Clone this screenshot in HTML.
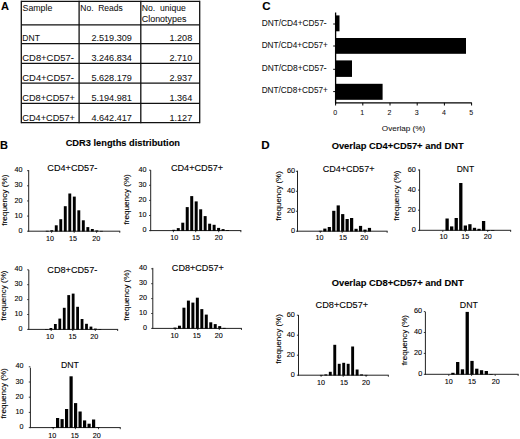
<!DOCTYPE html>
<html><head><meta charset="utf-8"><title>Figure</title>
<style>
html,body{margin:0;padding:0;background:#fff;}
body{width:520px;height:439px;overflow:hidden;}
svg{display:block;}
text{font-family:"Liberation Sans",sans-serif;fill:#000;stroke:#000;stroke-width:0.1px;}
text[font-weight=bold]{stroke-width:0.1px;}
text.lt{stroke-width:0.06px;fill:#111;stroke:#111;}
text.tk{stroke-width:0.1px;fill:#000;stroke:#000;}
</style></head>
<body>
<svg width="520" height="439" viewBox="0 0 520 439">
<rect width="520" height="439" fill="#fff"/>
<text x="1" y="9.8" font-size="11" font-weight="bold" text-anchor="start">A</text>
<line x1="21.3" y1="0.65" x2="21.3" y2="123.35" stroke="#111" stroke-width="1.3"/>
<line x1="79.1" y1="0.65" x2="79.1" y2="123.35" stroke="#111" stroke-width="1.3"/>
<line x1="140.8" y1="0.65" x2="140.8" y2="123.35" stroke="#111" stroke-width="1.3"/>
<line x1="199.7" y1="0.65" x2="199.7" y2="123.35" stroke="#111" stroke-width="1.3"/>
<line x1="21.3" y1="1.3" x2="199.7" y2="1.3" stroke="#111" stroke-width="1.3"/>
<line x1="21.3" y1="24.9" x2="199.7" y2="24.9" stroke="#111" stroke-width="1.3"/>
<line x1="21.3" y1="43.7" x2="199.7" y2="43.7" stroke="#111" stroke-width="1.3"/>
<line x1="21.3" y1="63.4" x2="199.7" y2="63.4" stroke="#111" stroke-width="1.3"/>
<line x1="21.3" y1="83.2" x2="199.7" y2="83.2" stroke="#111" stroke-width="1.3"/>
<line x1="21.3" y1="103.3" x2="199.7" y2="103.3" stroke="#111" stroke-width="1.3"/>
<line x1="21.3" y1="122.7" x2="199.7" y2="122.7" stroke="#111" stroke-width="1.3"/>
<text class="lt" x="22.52" y="11.1" font-size="9.6" text-anchor="start" textLength="29.86" lengthAdjust="spacingAndGlyphs">Sample</text>
<text class="lt" x="80.32" y="11.1" font-size="9.6" text-anchor="start" textLength="42.46" lengthAdjust="spacingAndGlyphs">No.&#160; Reads</text>
<text class="lt" x="141.72" y="11.1" font-size="9.6" text-anchor="start" textLength="44.16" lengthAdjust="spacingAndGlyphs">No.&#160; unique</text>
<text class="lt" x="141.72" y="21.9" font-size="9.6" text-anchor="start" textLength="44.76" lengthAdjust="spacingAndGlyphs">Clonotypes</text>
<text class="lt" x="22.32" y="41.3" font-size="9.6" text-anchor="start" textLength="17.56" lengthAdjust="spacingAndGlyphs">DNT</text>
<text class="lt" x="131.9" y="41.3" font-size="9.6" text-anchor="end" textLength="40.48" lengthAdjust="spacingAndGlyphs">2.519.309</text>
<text class="lt" x="192.2" y="41.3" font-size="9.6" text-anchor="end" textLength="22.77" lengthAdjust="spacingAndGlyphs">1.208</text>
<text class="lt" x="22.32" y="60.7" font-size="9.6" text-anchor="start" textLength="51.46" lengthAdjust="spacingAndGlyphs">CD8+CD57-</text>
<text class="lt" x="131.9" y="60.7" font-size="9.6" text-anchor="end" textLength="40.48" lengthAdjust="spacingAndGlyphs">3.246.834</text>
<text class="lt" x="192.2" y="60.7" font-size="9.6" text-anchor="end" textLength="22.77" lengthAdjust="spacingAndGlyphs">2.710</text>
<text class="lt" x="22.32" y="80.9" font-size="9.6" text-anchor="start" textLength="51.46" lengthAdjust="spacingAndGlyphs">CD4+CD57-</text>
<text class="lt" x="131.9" y="80.9" font-size="9.6" text-anchor="end" textLength="40.48" lengthAdjust="spacingAndGlyphs">5.628.179</text>
<text class="lt" x="192.2" y="80.9" font-size="9.6" text-anchor="end" textLength="22.77" lengthAdjust="spacingAndGlyphs">2.937</text>
<text class="lt" x="22.32" y="100.5" font-size="9.6" text-anchor="start" textLength="52.66" lengthAdjust="spacingAndGlyphs">CD8+CD57+</text>
<text class="lt" x="131.9" y="100.5" font-size="9.6" text-anchor="end" textLength="40.48" lengthAdjust="spacingAndGlyphs">5.194.981</text>
<text class="lt" x="192.2" y="100.5" font-size="9.6" text-anchor="end" textLength="22.77" lengthAdjust="spacingAndGlyphs">1.364</text>
<text class="lt" x="22.32" y="120.6" font-size="9.6" text-anchor="start" textLength="52.66" lengthAdjust="spacingAndGlyphs">CD4+CD57+</text>
<text class="lt" x="131.9" y="120.6" font-size="9.6" text-anchor="end" textLength="40.48" lengthAdjust="spacingAndGlyphs">4.642.417</text>
<text class="lt" x="192.2" y="120.6" font-size="9.6" text-anchor="end" textLength="22.77" lengthAdjust="spacingAndGlyphs">1.127</text>
<text x="262.3" y="10.2" font-size="11.5" font-weight="bold" text-anchor="start">C</text>
<text class="lt" x="261.69" y="25.7" font-size="8.2" text-anchor="start" textLength="64.92" lengthAdjust="spacingAndGlyphs">DNT/CD4+CD57-</text>
<text class="lt" x="261.69" y="48.2" font-size="8.2" text-anchor="start" textLength="66.12" lengthAdjust="spacingAndGlyphs">DNT/CD4+CD57+</text>
<text class="lt" x="261.69" y="71.2" font-size="8.2" text-anchor="start" textLength="64.92" lengthAdjust="spacingAndGlyphs">DNT/CD8+CD57-</text>
<text class="lt" x="261.69" y="93.2" font-size="8.2" text-anchor="start" textLength="66.12" lengthAdjust="spacingAndGlyphs">DNT/CD8+CD57+</text>
<rect x="335" y="15.4" width="4.5" height="15.9" fill="#000"/>
<rect x="335" y="38" width="131" height="15.8" fill="#000"/>
<rect x="335" y="60.4" width="17" height="16.5" fill="#000"/>
<rect x="335" y="83.8" width="47.6" height="16" fill="#000"/>
<line x1="335.6" y1="12.5" x2="335.6" y2="103.6" stroke="#000" stroke-width="1.3"/>
<line x1="335" y1="102.9" x2="471.8" y2="102.9" stroke="#000" stroke-width="1.2"/>
<line x1="333.2" y1="24" x2="335.5" y2="24" stroke="#000" stroke-width="1"/>
<line x1="333.2" y1="46" x2="335.5" y2="46" stroke="#000" stroke-width="1"/>
<line x1="333.2" y1="69.3" x2="335.5" y2="69.3" stroke="#000" stroke-width="1"/>
<line x1="333.2" y1="91.6" x2="335.5" y2="91.6" stroke="#000" stroke-width="1"/>
<line x1="335.6" y1="102.8" x2="335.6" y2="105.5" stroke="#000" stroke-width="1"/>
<text class="lt" x="335.1" y="115.1" font-size="7.9" text-anchor="middle" textLength="3.9" lengthAdjust="spacingAndGlyphs">0</text>
<line x1="362.8" y1="102.8" x2="362.8" y2="105.5" stroke="#000" stroke-width="1"/>
<text class="lt" x="362.3" y="115.1" font-size="7.9" text-anchor="middle" textLength="3.9" lengthAdjust="spacingAndGlyphs">1</text>
<line x1="390" y1="102.8" x2="390" y2="105.5" stroke="#000" stroke-width="1"/>
<text class="lt" x="389.5" y="115.1" font-size="7.9" text-anchor="middle" textLength="3.9" lengthAdjust="spacingAndGlyphs">2</text>
<line x1="417.2" y1="102.8" x2="417.2" y2="105.5" stroke="#000" stroke-width="1"/>
<text class="lt" x="416.7" y="115.1" font-size="7.9" text-anchor="middle" textLength="3.9" lengthAdjust="spacingAndGlyphs">3</text>
<line x1="444.4" y1="102.8" x2="444.4" y2="105.5" stroke="#000" stroke-width="1"/>
<text class="lt" x="443.9" y="115.1" font-size="7.9" text-anchor="middle" textLength="3.9" lengthAdjust="spacingAndGlyphs">4</text>
<line x1="471.6" y1="102.8" x2="471.6" y2="105.5" stroke="#000" stroke-width="1"/>
<text class="lt" x="471.1" y="115.1" font-size="7.9" text-anchor="middle" textLength="3.9" lengthAdjust="spacingAndGlyphs">5</text>
<text class="lt" x="381.81" y="130.5" font-size="7.7" text-anchor="start" textLength="43.47" lengthAdjust="spacingAndGlyphs">Overlap (%)</text>
<text x="0.1" y="148.7" font-size="11" font-weight="bold" text-anchor="start">B</text>
<text x="65.66" y="146.2" font-size="8.72" font-weight="bold" text-anchor="start" textLength="114.37" lengthAdjust="spacingAndGlyphs">CDR3 lengths distribution</text>
<text x="261.2" y="149" font-size="11.6" font-weight="bold" text-anchor="start">D</text>
<text x="331.67" y="149.2" font-size="8.58" font-weight="bold" text-anchor="start" textLength="131.96" lengthAdjust="spacingAndGlyphs">Overlap CD4+CD57+ and DNT</text>
<text x="331.66" y="285.5" font-size="8.87" font-weight="bold" text-anchor="start" textLength="131.99" lengthAdjust="spacingAndGlyphs">Overlap CD8+CD57+ and DNT</text>
<line x1="28.7" y1="170.1" x2="28.7" y2="231.7" stroke="#222" stroke-width="1"/>
<line x1="28.2" y1="231.2" x2="120.2" y2="231.2" stroke="#222" stroke-width="1"/>
<line x1="119.75" y1="231.2" x2="119.75" y2="232.8" stroke="#222" stroke-width="0.9"/>
<line x1="27.1" y1="231.2" x2="28.7" y2="231.2" stroke="#222" stroke-width="0.9"/>
<text class="tk" x="22.6" y="232.8" font-size="7.2" text-anchor="end">0</text>
<line x1="27.1" y1="216.07" x2="28.7" y2="216.07" stroke="#222" stroke-width="0.9"/>
<text class="tk" x="22.6" y="217.67" font-size="7.2" text-anchor="end">10</text>
<line x1="27.1" y1="200.94" x2="28.7" y2="200.94" stroke="#222" stroke-width="0.9"/>
<text class="tk" x="22.6" y="202.54" font-size="7.2" text-anchor="end">20</text>
<line x1="27.1" y1="185.81" x2="28.7" y2="185.81" stroke="#222" stroke-width="0.9"/>
<text class="tk" x="22.6" y="187.41" font-size="7.2" text-anchor="end">30</text>
<line x1="27.1" y1="170.68" x2="28.7" y2="170.68" stroke="#222" stroke-width="0.9"/>
<text class="tk" x="22.6" y="172.28" font-size="7.2" text-anchor="end">40</text>
<line x1="51.6" y1="231.2" x2="51.6" y2="232.8" stroke="#222" stroke-width="0.9"/>
<text class="tk" x="49.95" y="241" font-size="7.2" text-anchor="middle">10</text>
<line x1="74.2" y1="231.2" x2="74.2" y2="232.8" stroke="#222" stroke-width="0.9"/>
<text class="tk" x="72.95" y="241" font-size="7.2" text-anchor="middle">15</text>
<line x1="96.6" y1="231.2" x2="96.6" y2="232.8" stroke="#222" stroke-width="0.9"/>
<text class="tk" x="96.15" y="241" font-size="7.2" text-anchor="middle">20</text>
<rect x="45.79" y="230.8" width="2.9" height="0.7" fill="#000"/>
<rect x="50.3" y="230.2" width="2.9" height="1.3" fill="#000"/>
<rect x="54.81" y="225.3" width="2.9" height="6.2" fill="#000"/>
<rect x="59.32" y="219.2" width="2.9" height="12.3" fill="#000"/>
<rect x="63.83" y="206.2" width="2.9" height="25.3" fill="#000"/>
<rect x="68.34" y="193.5" width="2.9" height="38" fill="#000"/>
<rect x="72.85" y="196.6" width="2.9" height="34.9" fill="#000"/>
<rect x="77.36" y="210.3" width="2.9" height="21.2" fill="#000"/>
<rect x="81.87" y="220.3" width="2.9" height="11.2" fill="#000"/>
<rect x="86.38" y="227.1" width="2.9" height="4.4" fill="#000"/>
<rect x="90.89" y="229" width="2.9" height="2.5" fill="#000"/>
<rect x="95.4" y="230.4" width="2.9" height="1.1" fill="#000"/>
<rect x="99.91" y="230.9" width="2.9" height="0.6" fill="#000"/>
<text x="47.34" y="171.3" font-size="9.2" text-anchor="start" textLength="49.92" lengthAdjust="spacingAndGlyphs">CD4+CD57-</text>
<text transform="translate(6.55,200.15) rotate(-90)" font-size="7.4" text-anchor="middle" textLength="51.3" lengthAdjust="spacingAndGlyphs">frequency (%)</text>
<line x1="150.7" y1="170.1" x2="150.7" y2="231.1" stroke="#222" stroke-width="1"/>
<line x1="150.2" y1="230.6" x2="241.3" y2="230.6" stroke="#222" stroke-width="1"/>
<line x1="240.85" y1="230.6" x2="240.85" y2="232.2" stroke="#222" stroke-width="0.9"/>
<line x1="149.1" y1="230.6" x2="150.7" y2="230.6" stroke="#222" stroke-width="0.9"/>
<text class="tk" x="146.6" y="232.2" font-size="7.2" text-anchor="end">0</text>
<line x1="149.1" y1="215.5" x2="150.7" y2="215.5" stroke="#222" stroke-width="0.9"/>
<text class="tk" x="146.6" y="217.1" font-size="7.2" text-anchor="end">10</text>
<line x1="149.1" y1="200.4" x2="150.7" y2="200.4" stroke="#222" stroke-width="0.9"/>
<text class="tk" x="146.6" y="202" font-size="7.2" text-anchor="end">20</text>
<line x1="149.1" y1="185.3" x2="150.7" y2="185.3" stroke="#222" stroke-width="0.9"/>
<text class="tk" x="146.6" y="186.9" font-size="7.2" text-anchor="end">30</text>
<line x1="149.1" y1="170.2" x2="150.7" y2="170.2" stroke="#222" stroke-width="0.9"/>
<text class="tk" x="146.6" y="171.8" font-size="7.2" text-anchor="end">40</text>
<line x1="173.4" y1="230.6" x2="173.4" y2="232.2" stroke="#222" stroke-width="0.9"/>
<text class="tk" x="174.2" y="239.8" font-size="7.2" text-anchor="middle">10</text>
<line x1="195.7" y1="230.6" x2="195.7" y2="232.2" stroke="#222" stroke-width="0.9"/>
<text class="tk" x="195.95" y="239.8" font-size="7.2" text-anchor="middle">15</text>
<line x1="218.7" y1="230.6" x2="218.7" y2="232.2" stroke="#222" stroke-width="0.9"/>
<text class="tk" x="218.65" y="239.8" font-size="7.2" text-anchor="middle">20</text>
<rect x="172.3" y="229.8" width="3" height="1.1" fill="#000"/>
<rect x="176.78" y="228.1" width="3" height="2.8" fill="#000"/>
<rect x="181.26" y="222.7" width="3" height="8.2" fill="#000"/>
<rect x="185.74" y="207.1" width="3" height="23.8" fill="#000"/>
<rect x="190.22" y="196.1" width="3" height="34.8" fill="#000"/>
<rect x="194.7" y="201.4" width="3" height="29.5" fill="#000"/>
<rect x="199.18" y="209.3" width="3" height="21.6" fill="#000"/>
<rect x="203.66" y="216.1" width="3" height="14.8" fill="#000"/>
<rect x="208.14" y="223.7" width="3" height="7.2" fill="#000"/>
<rect x="212.62" y="224.8" width="3" height="6.1" fill="#000"/>
<rect x="217.1" y="227.9" width="3" height="3" fill="#000"/>
<rect x="221.58" y="229.1" width="3" height="1.8" fill="#000"/>
<rect x="226.06" y="230.1" width="3" height="0.8" fill="#000"/>
<text x="170.94" y="171.4" font-size="9.2" text-anchor="start" textLength="52.22" lengthAdjust="spacingAndGlyphs">CD4+CD57+</text>
<text transform="translate(129.25,199.35) rotate(-90)" font-size="7.4" text-anchor="middle" textLength="50.3" lengthAdjust="spacingAndGlyphs">frequency (%)</text>
<line x1="28.8" y1="269.9" x2="28.8" y2="329.9" stroke="#222" stroke-width="1"/>
<line x1="28.3" y1="329.4" x2="118.1" y2="329.4" stroke="#222" stroke-width="1"/>
<line x1="117.65" y1="329.4" x2="117.65" y2="331" stroke="#222" stroke-width="0.9"/>
<line x1="27.2" y1="329.4" x2="28.8" y2="329.4" stroke="#222" stroke-width="0.9"/>
<text class="tk" x="22.5" y="331" font-size="7.2" text-anchor="end">0</text>
<line x1="27.2" y1="314.5" x2="28.8" y2="314.5" stroke="#222" stroke-width="0.9"/>
<text class="tk" x="22.5" y="316.1" font-size="7.2" text-anchor="end">10</text>
<line x1="27.2" y1="299.6" x2="28.8" y2="299.6" stroke="#222" stroke-width="0.9"/>
<text class="tk" x="22.5" y="301.2" font-size="7.2" text-anchor="end">20</text>
<line x1="27.2" y1="284.7" x2="28.8" y2="284.7" stroke="#222" stroke-width="0.9"/>
<text class="tk" x="22.5" y="286.3" font-size="7.2" text-anchor="end">30</text>
<line x1="27.2" y1="269.8" x2="28.8" y2="269.8" stroke="#222" stroke-width="0.9"/>
<text class="tk" x="22.5" y="271.4" font-size="7.2" text-anchor="end">40</text>
<line x1="51.2" y1="329.4" x2="51.2" y2="331" stroke="#222" stroke-width="0.9"/>
<text class="tk" x="49.95" y="338.9" font-size="7.2" text-anchor="middle">10</text>
<line x1="72.8" y1="329.4" x2="72.8" y2="331" stroke="#222" stroke-width="0.9"/>
<text class="tk" x="72.4" y="338.9" font-size="7.2" text-anchor="middle">15</text>
<line x1="95.3" y1="329.4" x2="95.3" y2="331" stroke="#222" stroke-width="0.9"/>
<text class="tk" x="94.35" y="338.9" font-size="7.2" text-anchor="middle">20</text>
<rect x="45.05" y="329.1" width="2.8" height="0.6" fill="#000"/>
<rect x="49.5" y="328" width="2.8" height="1.7" fill="#000"/>
<rect x="53.95" y="324" width="2.8" height="5.7" fill="#000"/>
<rect x="58.4" y="318.6" width="2.8" height="11.1" fill="#000"/>
<rect x="62.85" y="307.8" width="2.8" height="21.9" fill="#000"/>
<rect x="67.3" y="295.1" width="2.8" height="34.6" fill="#000"/>
<rect x="71.75" y="293.6" width="2.8" height="36.1" fill="#000"/>
<rect x="76.2" y="306.8" width="2.8" height="22.9" fill="#000"/>
<rect x="80.65" y="319" width="2.8" height="10.7" fill="#000"/>
<rect x="85.1" y="323.8" width="2.8" height="5.9" fill="#000"/>
<rect x="89.55" y="326.6" width="2.8" height="3.1" fill="#000"/>
<rect x="94" y="328.6" width="2.8" height="1.1" fill="#000"/>
<rect x="98.45" y="329.1" width="2.8" height="0.6" fill="#000"/>
<text x="47.34" y="273.1" font-size="9.2" text-anchor="start" textLength="49.92" lengthAdjust="spacingAndGlyphs">CD8+CD57-</text>
<text transform="translate(6.35,295.6) rotate(-90)" font-size="7.4" text-anchor="middle" textLength="50.2" lengthAdjust="spacingAndGlyphs">frequency (%)</text>
<line x1="152.8" y1="267.9" x2="152.8" y2="328.9" stroke="#222" stroke-width="1"/>
<line x1="152.3" y1="328.4" x2="241.9" y2="328.4" stroke="#222" stroke-width="1"/>
<line x1="241.45" y1="328.4" x2="241.45" y2="330" stroke="#222" stroke-width="0.9"/>
<line x1="151.2" y1="328.4" x2="152.8" y2="328.4" stroke="#222" stroke-width="0.9"/>
<text class="tk" x="147" y="330" font-size="7.2" text-anchor="end">0</text>
<line x1="151.2" y1="313.5" x2="152.8" y2="313.5" stroke="#222" stroke-width="0.9"/>
<text class="tk" x="147" y="315.1" font-size="7.2" text-anchor="end">10</text>
<line x1="151.2" y1="298.6" x2="152.8" y2="298.6" stroke="#222" stroke-width="0.9"/>
<text class="tk" x="147" y="300.2" font-size="7.2" text-anchor="end">20</text>
<line x1="151.2" y1="283.7" x2="152.8" y2="283.7" stroke="#222" stroke-width="0.9"/>
<text class="tk" x="147" y="285.3" font-size="7.2" text-anchor="end">30</text>
<line x1="151.2" y1="268.8" x2="152.8" y2="268.8" stroke="#222" stroke-width="0.9"/>
<text class="tk" x="147" y="270.4" font-size="7.2" text-anchor="end">40</text>
<line x1="175.2" y1="328.4" x2="175.2" y2="330" stroke="#222" stroke-width="0.9"/>
<text class="tk" x="174.5" y="338" font-size="7.2" text-anchor="middle">10</text>
<line x1="197.8" y1="328.4" x2="197.8" y2="330" stroke="#222" stroke-width="0.9"/>
<text class="tk" x="196.85" y="338" font-size="7.2" text-anchor="middle">15</text>
<line x1="219.3" y1="328.4" x2="219.3" y2="330" stroke="#222" stroke-width="0.9"/>
<text class="tk" x="218.75" y="338" font-size="7.2" text-anchor="middle">20</text>
<rect x="173.5" y="327.6" width="3" height="1.1" fill="#000"/>
<rect x="177.97" y="325.7" width="3" height="3" fill="#000"/>
<rect x="182.44" y="307.7" width="3" height="21" fill="#000"/>
<rect x="186.91" y="300.6" width="3" height="28.1" fill="#000"/>
<rect x="191.38" y="302.6" width="3" height="26.1" fill="#000"/>
<rect x="195.85" y="297.7" width="3" height="31" fill="#000"/>
<rect x="200.32" y="309.1" width="3" height="19.6" fill="#000"/>
<rect x="204.79" y="314.6" width="3" height="14.1" fill="#000"/>
<rect x="209.26" y="322.3" width="3" height="6.4" fill="#000"/>
<rect x="213.73" y="324.1" width="3" height="4.6" fill="#000"/>
<rect x="218.2" y="326.1" width="3" height="2.6" fill="#000"/>
<rect x="222.67" y="327.9" width="3" height="0.8" fill="#000"/>
<text x="171.84" y="271" font-size="9.2" text-anchor="start" textLength="51.97" lengthAdjust="spacingAndGlyphs">CD8+CD57+</text>
<text transform="translate(129.25,295.25) rotate(-90)" font-size="7.4" text-anchor="middle" textLength="50.9" lengthAdjust="spacingAndGlyphs">frequency (%)</text>
<line x1="30.4" y1="367.7" x2="30.4" y2="428.1" stroke="#222" stroke-width="1"/>
<line x1="29.9" y1="427.6" x2="120.7" y2="427.6" stroke="#222" stroke-width="1"/>
<line x1="120.25" y1="427.6" x2="120.25" y2="429.2" stroke="#222" stroke-width="0.9"/>
<line x1="28.8" y1="427.6" x2="30.4" y2="427.6" stroke="#222" stroke-width="0.9"/>
<text class="tk" x="23.5" y="429.2" font-size="7.2" text-anchor="end">0</text>
<line x1="28.8" y1="412.4" x2="30.4" y2="412.4" stroke="#222" stroke-width="0.9"/>
<text class="tk" x="23.5" y="414" font-size="7.2" text-anchor="end">10</text>
<line x1="28.8" y1="397.2" x2="30.4" y2="397.2" stroke="#222" stroke-width="0.9"/>
<text class="tk" x="23.5" y="398.8" font-size="7.2" text-anchor="end">20</text>
<line x1="28.8" y1="382" x2="30.4" y2="382" stroke="#222" stroke-width="0.9"/>
<text class="tk" x="23.5" y="383.6" font-size="7.2" text-anchor="end">30</text>
<line x1="28.8" y1="366.8" x2="30.4" y2="366.8" stroke="#222" stroke-width="0.9"/>
<text class="tk" x="23.5" y="368.4" font-size="7.2" text-anchor="end">40</text>
<line x1="53.2" y1="427.6" x2="53.2" y2="429.2" stroke="#222" stroke-width="0.9"/>
<text class="tk" x="52.35" y="438.1" font-size="7.2" text-anchor="middle">10</text>
<line x1="75.4" y1="427.6" x2="75.4" y2="429.2" stroke="#222" stroke-width="0.9"/>
<text class="tk" x="74.75" y="438.1" font-size="7.2" text-anchor="middle">15</text>
<line x1="98.5" y1="427.6" x2="98.5" y2="429.2" stroke="#222" stroke-width="0.9"/>
<text class="tk" x="96.75" y="438.1" font-size="7.2" text-anchor="middle">20</text>
<rect x="51.5" y="427.2" width="3.2" height="0.7" fill="#000"/>
<rect x="56" y="418" width="3.2" height="9.9" fill="#000"/>
<rect x="60.5" y="419.1" width="3.2" height="8.8" fill="#000"/>
<rect x="65" y="409" width="3.2" height="18.9" fill="#000"/>
<rect x="69.5" y="376.3" width="3.2" height="51.6" fill="#000"/>
<rect x="74" y="403.1" width="3.2" height="24.8" fill="#000"/>
<rect x="78.5" y="411.5" width="3.2" height="16.4" fill="#000"/>
<rect x="83" y="420.4" width="3.2" height="7.5" fill="#000"/>
<rect x="87.5" y="423.7" width="3.2" height="4.2" fill="#000"/>
<rect x="92" y="419.5" width="3.2" height="8.4" fill="#000"/>
<rect x="96.5" y="427.2" width="3.2" height="0.7" fill="#000"/>
<text x="61.04" y="367.8" font-size="9.2" text-anchor="start" textLength="17.92" lengthAdjust="spacingAndGlyphs">DNT</text>
<text transform="translate(6.35,393.35) rotate(-90)" font-size="7.4" text-anchor="middle" textLength="50.3" lengthAdjust="spacingAndGlyphs">frequency (%)</text>
<line x1="297.5" y1="170.7" x2="297.5" y2="231.7" stroke="#222" stroke-width="1"/>
<line x1="297" y1="231.2" x2="387.6" y2="231.2" stroke="#222" stroke-width="1"/>
<line x1="387.15" y1="231.2" x2="387.15" y2="232.8" stroke="#222" stroke-width="0.9"/>
<line x1="295.9" y1="231.2" x2="297.5" y2="231.2" stroke="#222" stroke-width="0.9"/>
<text class="tk" x="295" y="232.7" font-size="7.3" text-anchor="end">0</text>
<line x1="295.9" y1="211.24" x2="297.5" y2="211.24" stroke="#222" stroke-width="0.9"/>
<text class="tk" x="295" y="212.74" font-size="7.3" text-anchor="end">20</text>
<line x1="295.9" y1="191.28" x2="297.5" y2="191.28" stroke="#222" stroke-width="0.9"/>
<text class="tk" x="295" y="192.78" font-size="7.3" text-anchor="end">40</text>
<line x1="295.9" y1="171.32" x2="297.5" y2="171.32" stroke="#222" stroke-width="0.9"/>
<text class="tk" x="295" y="172.82" font-size="7.3" text-anchor="end">60</text>
<line x1="320.3" y1="231.2" x2="320.3" y2="232.8" stroke="#222" stroke-width="0.9"/>
<text class="tk" x="319.5" y="239.9" font-size="7.2" text-anchor="middle">10</text>
<line x1="342.2" y1="231.2" x2="342.2" y2="232.8" stroke="#222" stroke-width="0.9"/>
<text class="tk" x="343" y="239.9" font-size="7.2" text-anchor="middle">15</text>
<line x1="365" y1="231.2" x2="365" y2="232.8" stroke="#222" stroke-width="0.9"/>
<text class="tk" x="364.3" y="239.9" font-size="7.2" text-anchor="middle">20</text>
<rect x="318.8" y="230.8" width="3.2" height="0.7" fill="#000"/>
<rect x="323.26" y="228.6" width="3.2" height="2.9" fill="#000"/>
<rect x="327.72" y="227" width="3.2" height="4.5" fill="#000"/>
<rect x="332.18" y="210.8" width="3.2" height="20.7" fill="#000"/>
<rect x="336.64" y="205.4" width="3.2" height="26.1" fill="#000"/>
<rect x="341.1" y="214.1" width="3.2" height="17.4" fill="#000"/>
<rect x="345.56" y="219" width="3.2" height="12.5" fill="#000"/>
<rect x="350.02" y="218" width="3.2" height="13.5" fill="#000"/>
<rect x="354.48" y="228.8" width="3.2" height="2.7" fill="#000"/>
<rect x="358.94" y="225.9" width="3.2" height="5.6" fill="#000"/>
<rect x="363.4" y="229.6" width="3.2" height="1.9" fill="#000"/>
<rect x="367.86" y="227.9" width="3.2" height="3.6" fill="#000"/>
<text x="322.69" y="171.8" font-size="9.2" text-anchor="start" textLength="51.77" lengthAdjust="spacingAndGlyphs">CD4+CD57+</text>
<text transform="translate(280.75,195.95) rotate(-90)" font-size="7.4" text-anchor="middle" textLength="49.5" lengthAdjust="spacingAndGlyphs">frequency (%)</text>
<line x1="419.6" y1="169.5" x2="419.6" y2="230.8" stroke="#222" stroke-width="1"/>
<line x1="419.1" y1="230.3" x2="511.1" y2="230.3" stroke="#222" stroke-width="1"/>
<line x1="510.65" y1="230.3" x2="510.65" y2="231.9" stroke="#222" stroke-width="0.9"/>
<line x1="418" y1="230.3" x2="419.6" y2="230.3" stroke="#222" stroke-width="0.9"/>
<text class="tk" x="415.9" y="231.8" font-size="7.3" text-anchor="end">0</text>
<line x1="418" y1="210.2" x2="419.6" y2="210.2" stroke="#222" stroke-width="0.9"/>
<text class="tk" x="415.9" y="211.7" font-size="7.3" text-anchor="end">20</text>
<line x1="418" y1="190.1" x2="419.6" y2="190.1" stroke="#222" stroke-width="0.9"/>
<text class="tk" x="415.9" y="191.6" font-size="7.3" text-anchor="end">40</text>
<line x1="418" y1="170" x2="419.6" y2="170" stroke="#222" stroke-width="0.9"/>
<text class="tk" x="415.9" y="171.5" font-size="7.3" text-anchor="end">60</text>
<line x1="442.8" y1="230.3" x2="442.8" y2="231.9" stroke="#222" stroke-width="0.9"/>
<text class="tk" x="443.5" y="239.4" font-size="7.2" text-anchor="middle">10</text>
<line x1="465.3" y1="230.3" x2="465.3" y2="231.9" stroke="#222" stroke-width="0.9"/>
<text class="tk" x="465.2" y="239.4" font-size="7.2" text-anchor="middle">15</text>
<line x1="487.7" y1="230.3" x2="487.7" y2="231.9" stroke="#222" stroke-width="0.9"/>
<text class="tk" x="487.7" y="239.4" font-size="7.2" text-anchor="middle">20</text>
<rect x="445.46" y="218.5" width="3.3" height="12.1" fill="#000"/>
<rect x="450.02" y="226.4" width="3.3" height="4.2" fill="#000"/>
<rect x="454.58" y="218" width="3.3" height="12.6" fill="#000"/>
<rect x="459.14" y="183" width="3.3" height="47.6" fill="#000"/>
<rect x="463.7" y="225.5" width="3.3" height="5.1" fill="#000"/>
<rect x="468.26" y="224.2" width="3.3" height="6.4" fill="#000"/>
<rect x="472.82" y="227.8" width="3.3" height="2.8" fill="#000"/>
<rect x="477.38" y="228.8" width="3.3" height="1.8" fill="#000"/>
<rect x="481.94" y="221" width="3.3" height="9.6" fill="#000"/>
<rect x="486.5" y="230" width="3.3" height="0.6" fill="#000"/>
<rect x="491.06" y="230" width="3.3" height="0.6" fill="#000"/>
<text x="456.64" y="171.5" font-size="9.2" text-anchor="start" textLength="17.62" lengthAdjust="spacingAndGlyphs">DNT</text>
<text transform="translate(399.25,195.6) rotate(-90)" font-size="7.4" text-anchor="middle" textLength="50.2" lengthAdjust="spacingAndGlyphs">frequency (%)</text>
<line x1="298.5" y1="315" x2="298.5" y2="375.7" stroke="#222" stroke-width="1"/>
<line x1="298" y1="375.2" x2="388.8" y2="375.2" stroke="#222" stroke-width="1"/>
<line x1="388.35" y1="375.2" x2="388.35" y2="376.8" stroke="#222" stroke-width="0.9"/>
<line x1="296.9" y1="375.2" x2="298.5" y2="375.2" stroke="#222" stroke-width="0.9"/>
<text class="tk" x="294.8" y="376.7" font-size="7.3" text-anchor="end">0</text>
<line x1="296.9" y1="355.2" x2="298.5" y2="355.2" stroke="#222" stroke-width="0.9"/>
<text class="tk" x="294.8" y="356.7" font-size="7.3" text-anchor="end">20</text>
<line x1="296.9" y1="335.2" x2="298.5" y2="335.2" stroke="#222" stroke-width="0.9"/>
<text class="tk" x="294.8" y="336.7" font-size="7.3" text-anchor="end">40</text>
<line x1="296.9" y1="315.2" x2="298.5" y2="315.2" stroke="#222" stroke-width="0.9"/>
<text class="tk" x="294.8" y="316.7" font-size="7.3" text-anchor="end">60</text>
<line x1="321.1" y1="375.2" x2="321.1" y2="376.8" stroke="#222" stroke-width="0.9"/>
<text class="tk" x="321" y="384.9" font-size="7.2" text-anchor="middle">10</text>
<line x1="343.2" y1="375.2" x2="343.2" y2="376.8" stroke="#222" stroke-width="0.9"/>
<text class="tk" x="344" y="384.9" font-size="7.2" text-anchor="middle">15</text>
<line x1="366.1" y1="375.2" x2="366.1" y2="376.8" stroke="#222" stroke-width="0.9"/>
<text class="tk" x="366" y="384.9" font-size="7.2" text-anchor="middle">20</text>
<rect x="319.9" y="374.9" width="2.9" height="0.6" fill="#000"/>
<rect x="324.37" y="374.4" width="2.9" height="1.1" fill="#000"/>
<rect x="328.84" y="371.8" width="2.9" height="3.7" fill="#000"/>
<rect x="333.31" y="344.8" width="2.9" height="30.7" fill="#000"/>
<rect x="337.78" y="363.8" width="2.9" height="11.7" fill="#000"/>
<rect x="342.25" y="362.8" width="2.9" height="12.7" fill="#000"/>
<rect x="346.72" y="363.8" width="2.9" height="11.7" fill="#000"/>
<rect x="351.19" y="346.5" width="2.9" height="29" fill="#000"/>
<rect x="355.66" y="369.5" width="2.9" height="6" fill="#000"/>
<rect x="360.13" y="374.4" width="2.9" height="1.1" fill="#000"/>
<rect x="364.6" y="374.9" width="2.9" height="0.6" fill="#000"/>
<text x="315.54" y="308.4" font-size="9.2" text-anchor="start" textLength="52.62" lengthAdjust="spacingAndGlyphs">CD8+CD57+</text>
<text transform="translate(280.75,338.95) rotate(-90)" font-size="7.4" text-anchor="middle" textLength="49.5" lengthAdjust="spacingAndGlyphs">frequency (%)</text>
<line x1="425.4" y1="311.9" x2="425.4" y2="374.8" stroke="#222" stroke-width="1"/>
<line x1="424.9" y1="374.3" x2="518.6" y2="374.3" stroke="#222" stroke-width="1"/>
<line x1="518.15" y1="374.3" x2="518.15" y2="375.9" stroke="#222" stroke-width="0.9"/>
<line x1="423.8" y1="374.3" x2="425.4" y2="374.3" stroke="#222" stroke-width="0.9"/>
<text class="tk" x="422.2" y="375.8" font-size="7.3" text-anchor="end">0</text>
<line x1="423.8" y1="353.4" x2="425.4" y2="353.4" stroke="#222" stroke-width="0.9"/>
<text class="tk" x="422.2" y="354.9" font-size="7.3" text-anchor="end">20</text>
<line x1="423.8" y1="332.5" x2="425.4" y2="332.5" stroke="#222" stroke-width="0.9"/>
<text class="tk" x="422.2" y="334" font-size="7.3" text-anchor="end">40</text>
<line x1="423.8" y1="311.6" x2="425.4" y2="311.6" stroke="#222" stroke-width="0.9"/>
<text class="tk" x="422.2" y="313.1" font-size="7.3" text-anchor="end">60</text>
<line x1="448.8" y1="374.3" x2="448.8" y2="375.9" stroke="#222" stroke-width="0.9"/>
<text class="tk" x="448.7" y="383.5" font-size="7.2" text-anchor="middle">10</text>
<line x1="471.6" y1="374.3" x2="471.6" y2="375.9" stroke="#222" stroke-width="0.9"/>
<text class="tk" x="472" y="383.5" font-size="7.2" text-anchor="middle">15</text>
<line x1="495.2" y1="374.3" x2="495.2" y2="375.9" stroke="#222" stroke-width="0.9"/>
<text class="tk" x="495.8" y="383.5" font-size="7.2" text-anchor="middle">20</text>
<rect x="451.27" y="372.8" width="3.3" height="1.8" fill="#000"/>
<rect x="456.04" y="362" width="3.3" height="12.6" fill="#000"/>
<rect x="460.81" y="369.3" width="3.3" height="5.3" fill="#000"/>
<rect x="465.58" y="311.9" width="3.3" height="62.7" fill="#000"/>
<rect x="470.35" y="360.9" width="3.3" height="13.7" fill="#000"/>
<rect x="475.12" y="368.7" width="3.3" height="5.9" fill="#000"/>
<rect x="479.89" y="370.2" width="3.3" height="4.4" fill="#000"/>
<rect x="484.66" y="371" width="3.3" height="3.6" fill="#000"/>
<rect x="489.43" y="374" width="3.3" height="0.6" fill="#000"/>
<text x="459.84" y="308.35" font-size="9.2" text-anchor="start" textLength="18.12" lengthAdjust="spacingAndGlyphs">DNT</text>
<text transform="translate(407.05,340.1) rotate(-90)" font-size="7.4" text-anchor="middle" textLength="50.2" lengthAdjust="spacingAndGlyphs">frequency (%)</text>
</svg>
</body></html>
